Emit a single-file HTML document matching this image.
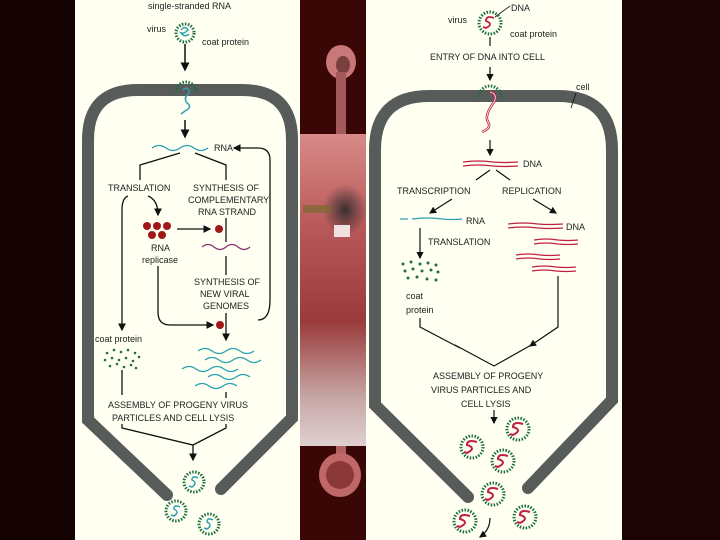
<!DOCTYPE html>
<html><head><style>
html,body{margin:0;padding:0;width:720px;height:540px;overflow:hidden;background:#1c0404;}
svg{display:block}
text{font-family:"Liberation Sans",sans-serif;font-size:9px;fill:#222;}
</style></head><body>
<svg width="720" height="540" viewBox="0 0 720 540" xmlns="http://www.w3.org/2000/svg">
<defs>
<radialGradient id="bg" cx="0.5" cy="0.4" r="0.7">
<stop offset="0" stop-color="#5a1010"/><stop offset="0.6" stop-color="#2a0606"/><stop offset="1" stop-color="#120202"/>
</radialGradient>
<linearGradient id="body" x1="0" y1="0" x2="0" y2="1">
<stop offset="0" stop-color="#d88a88"/><stop offset="0.3" stop-color="#b85858"/><stop offset="0.6" stop-color="#9a3a3a"/><stop offset="0.85" stop-color="#c8a8a8"/><stop offset="1" stop-color="#e0d0d0"/>
</linearGradient>
<radialGradient id="spot" cx="0.5" cy="0.5" r="0.5">
<stop offset="0" stop-color="#3a3030"/><stop offset="1" stop-color="#3a3030" stop-opacity="0"/>
</radialGradient>
<marker id="ar" markerWidth="6" markerHeight="6" refX="5" refY="3" orient="auto"><path d="M0,0 L6,3 L0,6z" fill="#111"/></marker>
</defs>
<rect width="720" height="540" fill="url(#bg)"/>
<rect x="0" y="0" width="75" height="540" fill="#150303"/>
<rect x="622" y="0" width="98" height="540" fill="#1a0404"/>
<!-- middle picture -->
<rect x="300" y="0" width="66" height="540" fill="#3a0606"/>
<rect x="300" y="134" width="66" height="312" fill="url(#body)"/>
<ellipse cx="345" cy="210" rx="22" ry="26" fill="url(#spot)"/>
<rect x="334" y="225" width="16" height="12" fill="#f0e0e0"/>
<rect x="303" y="205" width="28" height="8" fill="#7a6a30" opacity="0.7"/>
<ellipse cx="341" cy="62" rx="15" ry="17" fill="#c87878"/>
<ellipse cx="343" cy="65" rx="7" ry="9" fill="#7a4040"/>
<rect x="336" y="72" width="10" height="62" fill="#a45a5a"/>
<rect x="336" y="446" width="10" height="25" fill="#b06060"/>
<ellipse cx="340" cy="475" rx="21" ry="22" fill="#c06868"/>
<ellipse cx="340" cy="475" rx="14" ry="14" fill="#8a3838"/>
<!-- panels -->
<rect x="75" y="0" width="225" height="540" fill="#fffff2"/>
<rect x="366" y="0" width="256" height="540" fill="#fffff2"/>

<!-- LEFT CELL -->
<path d="M167,495 L88,420 L88,140 Q88,90 138,90 L242,90 Q292,90 292,140 L292,418 L221,489" fill="none" stroke="#575b59" stroke-width="12" stroke-linecap="round"/>
<text x="148" y="9">single-stranded RNA</text>
<text x="147" y="32">virus</text>
<text x="202" y="45">coat protein</text>
<circle cx="185" cy="33" r="9" fill="none" stroke="#1e6e40" stroke-width="3" stroke-dasharray="1.5 1.5"/>
<path d="M181,30 q4,-5 7,0 q-4,4 -7,3 q4,5 8,1" fill="none" stroke="#2aa0b0" stroke-width="1.5"/>
<line x1="185" y1="44" x2="185" y2="70" stroke="#111" stroke-width="1.5" marker-end="url(#ar)"/>
<path d="M176,92 a10,10 0 0 1 20,0" fill="none" stroke="#1e6e40" stroke-width="3" stroke-dasharray="1.5 1.5"/>
<path d="M183,90 q6,-5 6,3 q-6,5 -2,10 q6,4 -2,8 l-4,3" fill="none" stroke="#2aa0b0" stroke-width="1.5"/>
<line x1="185" y1="120" x2="185" y2="137" stroke="#111" stroke-width="1.5" marker-end="url(#ar)"/>
<path d="M152,148 q7,-5 14,0 q7,5 14,0 q7,-5 14,0 q7,5 14,0" fill="none" stroke="#2aa0b0" stroke-width="1.3"/>
<text x="214" y="151">RNA</text>
<path d="M258,320 Q270,320 270,300 L270,160 Q270,148 258,148 L234,148" fill="none" stroke="#111" stroke-width="1.3" marker-end="url(#ar)"/>
<path d="M140,180 L140,165 L180,153 M195,153 L226,165 L226,180" fill="none" stroke="#111" stroke-width="1.3"/>
<text x="108" y="191">TRANSLATION</text>
<text x="193" y="191">SYNTHESIS OF</text>
<text x="188" y="203">COMPLEMENTARY</text>
<text x="198" y="215">RNA STRAND</text>
<path d="M128,196 Q122,198 122,210 L122,330" fill="none" stroke="#111" stroke-width="1.3" marker-end="url(#ar)"/>
<path d="M148,196 Q158,200 158,215" fill="none" stroke="#111" stroke-width="1.3" marker-end="url(#ar)"/>
<g fill="#a01818">
<circle cx="147" cy="226" r="4"/><circle cx="157" cy="226" r="4"/><circle cx="167" cy="226" r="4"/>
<circle cx="152" cy="235" r="4"/><circle cx="162" cy="235" r="4"/>
<circle cx="219" cy="229" r="4"/><circle cx="220" cy="325" r="4"/>
</g>
<line x1="177" y1="229" x2="210" y2="229" stroke="#111" stroke-width="1.3" marker-end="url(#ar)"/>
<line x1="226" y1="218" x2="226" y2="242" stroke="#111" stroke-width="1.3"/>
<text x="151" y="251">RNA</text>
<text x="142" y="263">replicase</text>
<path d="M202,247 q6,-5 12,0 q6,5 12,0 q6,-5 12,0 q6,5 12,0" fill="none" stroke="#8a3070" stroke-width="1.3"/>
<line x1="158" y1="266" x2="158" y2="312" stroke="#111" stroke-width="1.3"/>
<path d="M158,312 Q158,325 170,325 L213,325" fill="none" stroke="#111" stroke-width="1.3" marker-end="url(#ar)"/>
<line x1="226" y1="256" x2="226" y2="275" stroke="#111" stroke-width="1.3"/>
<text x="194" y="285">SYNTHESIS OF</text>
<text x="200" y="297">NEW VIRAL</text>
<text x="203" y="309">GENOMES</text>
<line x1="226" y1="313" x2="226" y2="340" stroke="#111" stroke-width="1.3" marker-end="url(#ar)"/>
<text x="95" y="342">coat protein</text>
<g fill="#1e6e40">
<circle cx="107" cy="353" r="1.3"/><circle cx="114" cy="350" r="1.3"/><circle cx="121" cy="352" r="1.3"/><circle cx="128" cy="350" r="1.3"/><circle cx="135" cy="353" r="1.3"/>
<circle cx="105" cy="360" r="1.3"/><circle cx="112" cy="358" r="1.3"/><circle cx="119" cy="360" r="1.3"/><circle cx="126" cy="358" r="1.3"/><circle cx="133" cy="361" r="1.3"/><circle cx="139" cy="357" r="1.3"/>
<circle cx="110" cy="366" r="1.3"/><circle cx="117" cy="364" r="1.3"/><circle cx="124" cy="367" r="1.3"/><circle cx="131" cy="365" r="1.3"/><circle cx="136" cy="368" r="1.3"/>
</g>
<g fill="none" stroke="#2aa0b0" stroke-width="1.3">
<path d="M198,351 q7,-5 14,0 q7,5 14,0 q7,-5 14,0 q7,5 14,0"/>
<path d="M205,360 q7,-5 14,0 q7,5 14,0 q7,-5 14,0 q7,5 14,0"/>
<path d="M182,369 q7,-5 14,0 q7,5 14,0 q7,-5 14,0 q7,5 14,0"/>
<path d="M208,377 q7,-5 14,0 q7,5 14,0 q7,-5 14,0"/>
<path d="M195,386 q7,-5 14,0 q7,5 14,0 q7,-5 14,0"/>
</g>
<line x1="122" y1="370" x2="122" y2="395" stroke="#111" stroke-width="1.3"/>
<line x1="226" y1="392" x2="226" y2="398" stroke="#111" stroke-width="1.3"/>
<text x="108" y="408">ASSEMBLY OF PROGENY VIRUS</text>
<text x="112" y="421">PARTICLES AND CELL LYSIS</text>
<path d="M122,424 L122,428 L193,445 L226,428 L226,424 M193,445 L193,460" fill="none" stroke="#111" stroke-width="1.3" marker-end="url(#ar)"/>
<g fill="none">
<circle cx="194" cy="482" r="10" stroke="#1e6e40" stroke-width="3" stroke-dasharray="1.5 1.5"/>
<circle cx="176" cy="511" r="10" stroke="#1e6e40" stroke-width="3" stroke-dasharray="1.5 1.5"/>
<circle cx="209" cy="524" r="10" stroke="#1e6e40" stroke-width="3" stroke-dasharray="1.5 1.5"/>
<path d="M198,478 q-6,-3 -6,2 q6,3 0,7 l-3,-1 M180,507 q-6,-3 -6,2 q6,3 0,7 l-3,-1 M213,520 q-6,-3 -6,2 q6,3 0,7 l-3,-1" stroke="#2aa0b0" stroke-width="1.5"/>
</g>

<!-- RIGHT CELL -->
<path d="M468,497 L375,405 L375,150 Q375,96 429,96 L558,96 Q612,96 612,150 L612,400 L528,488" fill="none" stroke="#575b59" stroke-width="12" stroke-linecap="round"/>
<text x="448" y="23">virus</text>
<text x="511" y="11">DNA</text>
<text x="510" y="37">coat protein</text>
<line x1="495" y1="17" x2="510" y2="6" stroke="#111" stroke-width="0.8"/>
<circle cx="490" cy="23" r="11" fill="none" stroke="#1e6e40" stroke-width="3" stroke-dasharray="1.5 1.5"/>
<path d="M494,18 q-8,-3 -8,3 q8,3 0,7 l-3,-1" fill="none" stroke="#c02040" stroke-width="1.8"/>
<line x1="490" y1="37" x2="490" y2="46" stroke="#111" stroke-width="1.2"/>
<text x="430" y="60">ENTRY OF DNA INTO CELL</text>
<line x1="490" y1="67" x2="490" y2="80" stroke="#111" stroke-width="1.2" marker-end="url(#ar)"/>
<path d="M479,97 a11,11 0 0 1 22,0" fill="none" stroke="#1e6e40" stroke-width="3" stroke-dasharray="1.5 1.5"/>
<path d="M490,92 q8,2 4,10 q-10,14 -6,20 q4,6 -6,10" fill="none" stroke="#c02040" stroke-width="2.5"/>
<path d="M490,92 q8,2 4,10 q-10,14 -6,20 q4,6 -6,10" fill="none" stroke="#fff" stroke-width="0.8"/>
<text x="576" y="90">cell</text>
<line x1="576" y1="93" x2="571" y2="108" stroke="#111" stroke-width="0.8"/>
<line x1="490" y1="140" x2="490" y2="155" stroke="#111" stroke-width="1.2" marker-end="url(#ar)"/>
<g stroke="#c02040" stroke-width="1.3" fill="none">
<path d="M463,162 q15,-2 30,0 q10,1 25,0"/><path d="M463,166 q15,-2 30,0 q10,1 25,0"/>
<path d="M508,224 q15,-2 30,0 q10,1 25,0"/><path d="M508,228 q15,-2 30,0 q10,1 25,0"/>
<path d="M534,240 q12,-2 24,0 q10,1 20,0"/><path d="M534,244 q12,-2 24,0 q10,1 20,0"/>
<path d="M516,255 q12,-2 24,0 q10,1 20,0"/><path d="M516,259 q12,-2 24,0 q10,1 20,0"/>
<path d="M532,267 q12,-2 24,0 q10,1 20,0"/><path d="M532,271 q12,-2 24,0 q10,1 20,0"/>
</g>
<text x="523" y="167">DNA</text>
<path d="M490,170 L476,180 M496,170 L510,180" stroke="#111" stroke-width="1.2"/>
<text x="397" y="194">TRANSCRIPTION</text>
<text x="502" y="194">REPLICATION</text>
<line x1="452" y1="199" x2="430" y2="213" stroke="#111" stroke-width="1.2" marker-end="url(#ar)"/>
<line x1="533" y1="199" x2="556" y2="213" stroke="#111" stroke-width="1.2" marker-end="url(#ar)"/>
<path d="M400,219 l8,0 m4,0 q15,-2 30,0 q10,1 20,0" stroke="#2aa0b0" stroke-width="1.3" fill="none"/>
<text x="466" y="224">RNA</text>
<text x="566" y="230">DNA</text>
<line x1="420" y1="228" x2="420" y2="258" stroke="#111" stroke-width="1.2" marker-end="url(#ar)"/>
<text x="428" y="245">TRANSLATION</text>
<g fill="#1e6e40">
<circle cx="403" cy="264" r="1.5"/><circle cx="411" cy="262" r="1.5"/><circle cx="420" cy="264" r="1.5"/><circle cx="428" cy="263" r="1.5"/><circle cx="436" cy="265" r="1.5"/>
<circle cx="405" cy="271" r="1.5"/><circle cx="413" cy="269" r="1.5"/><circle cx="422" cy="271" r="1.5"/><circle cx="431" cy="270" r="1.5"/><circle cx="438" cy="272" r="1.5"/>
<circle cx="408" cy="278" r="1.5"/><circle cx="417" cy="277" r="1.5"/><circle cx="427" cy="279" r="1.5"/><circle cx="436" cy="280" r="1.5"/>
</g>
<text x="406" y="299">coat</text>
<text x="406" y="313">protein</text>
<path d="M420,318 L420,327 L460,348 M558,276 L558,327 L530,346" fill="none" stroke="#111" stroke-width="1.2" marker-end="url(#ar)"/>
<path d="M455,345 L494,366 L533,344" fill="none" stroke="#111" stroke-width="1.2"/>
<text x="433" y="379">ASSEMBLY OF PROGENY</text>
<text x="431" y="393">VIRUS PARTICLES AND</text>
<text x="461" y="407">CELL LYSIS</text>
<line x1="494" y1="410" x2="494" y2="423" stroke="#111" stroke-width="1.2" marker-end="url(#ar)"/>
<g fill="#fffff2" stroke="#1e6e40" stroke-width="3" stroke-dasharray="1.5 1.5">
<circle cx="518" cy="429" r="11"/><circle cx="472" cy="447" r="11"/><circle cx="503" cy="461" r="11"/>
<circle cx="493" cy="494" r="11"/><circle cx="465" cy="521" r="11"/><circle cx="525" cy="517" r="11"/>
</g>
<g fill="none" stroke="#c02040" stroke-width="2">
<path d="M523,424 q-10,-3 -10,3 q10,3 0,8 l-3,-1"/><path d="M477,442 q-10,-3 -10,3 q10,3 0,8 l-3,-1"/>
<path d="M508,456 q-10,-3 -10,3 q10,3 0,8 l-3,-1"/><path d="M498,489 q-10,-3 -10,3 q10,3 0,8 l-3,-1"/>
<path d="M470,516 q-10,-3 -10,3 q10,3 0,8 l-3,-1"/><path d="M530,512 q-10,-3 -10,3 q10,3 0,8 l-3,-1"/>
</g>
<path d="M490,518 Q490,530 480,537" fill="none" stroke="#111" stroke-width="1.2" marker-end="url(#ar)"/>
</svg>
</body></html>
